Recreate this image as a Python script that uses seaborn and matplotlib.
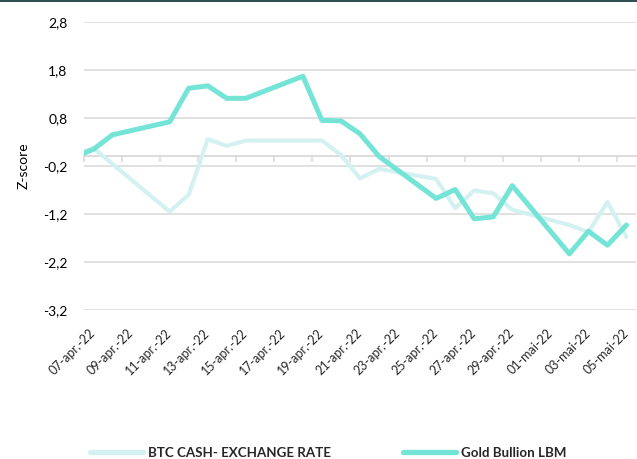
import matplotlib
matplotlib.use("Agg")
import matplotlib.pyplot as plt
import seaborn as sns
import pandas as pd
import numpy as np
from matplotlib.lines import Line2D
from matplotlib.patches import Rectangle

# ---------------- data ----------------
gold_dates = ["2022-04-06", "2022-04-07", "2022-04-08", "2022-04-11", "2022-04-12",
              "2022-04-13", "2022-04-14", "2022-04-15", "2022-04-18", "2022-04-19",
              "2022-04-20", "2022-04-21", "2022-04-22", "2022-04-25", "2022-04-26",
              "2022-04-27", "2022-04-28", "2022-04-29", "2022-05-02", "2022-05-03",
              "2022-05-04", "2022-05-05"]
gold_values = [-0.02, 0.15, 0.45, 0.72, 1.42,
               1.47, 1.21, 1.21, 1.67, 0.75,
               0.74, 0.47, 0.00, -0.875, -0.69,
               -1.30, -1.26, -0.61, -2.03, -1.56,
               -1.85, -1.43]

btc_dates = ["2022-04-06", "2022-04-07", "2022-04-11", "2022-04-12", "2022-04-13",
             "2022-04-14", "2022-04-15", "2022-04-18", "2022-04-19", "2022-04-20",
             "2022-04-21", "2022-04-22", "2022-04-25", "2022-04-26", "2022-04-27",
             "2022-04-28", "2022-04-29", "2022-05-02", "2022-05-03", "2022-05-04",
             "2022-05-05"]
btc_values = [0.05, 0.17, -1.15, -0.80, 0.36,
              0.22, 0.33, 0.33, 0.33, 0.03,
              -0.46, -0.26, -0.47, -1.08, -0.71,
              -0.77, -1.11, -1.43, -1.58, -0.95,
              -1.68]

series_names = ["BTC CASH- EXCHANGE RATE", "Gold Bullion LBM"]
x_tick_labels = ["07-apr.-22", "09-apr.-22", "11-apr.-22", "13-apr.-22", "15-apr.-22",
                 "17-apr.-22", "19-apr.-22", "21-apr.-22", "23-apr.-22", "25-apr.-22",
                 "27-apr.-22", "29-apr.-22", "01-mai-22", "03-mai-22", "05-mai-22"]
y_ticks = [-3.2, -2.2, -1.2, -0.2, 0.8, 1.8, 2.8]
y_label = "Z-score"
start_date = "2022-04-07"
end_date = "2022-05-05"

# ---------------- styling ----------------
GOLD_C = "#74E4D6"
BTC_C = "#D4F1F2"
GRID_C = "#D9D9D9"
TOP_C = "#2F5054"

sns.set_theme(style="white")
plt.rcParams["font.family"] = ["Lato", "DejaVu Sans"]

t0 = pd.Timestamp(start_date)
gold_df = pd.DataFrame({"day": (pd.to_datetime(gold_dates) - t0).days, "z": gold_values})
btc_df = pd.DataFrame({"day": (pd.to_datetime(btc_dates) - t0).days, "z": btc_values})
n_days = (pd.Timestamp(end_date) - t0).days

W, H = 637, 459
fig = plt.figure(figsize=(W / 100, H / 100), dpi=100)
ax = fig.add_axes([84 / W, 1 - 310 / H, 552 / W, 288 / H])

sns.lineplot(data=btc_df, x="day", y="z", ax=ax, color=BTC_C, lw=3.0,
             solid_joinstyle="round", solid_capstyle="round", zorder=3)
sns.lineplot(data=gold_df, x="day", y="z", ax=ax, color=GOLD_C, lw=3.6,
             solid_joinstyle="round", solid_capstyle="round", zorder=4)

ax.set_xlim(-0.5, n_days + 0.5)
ax.set_ylim(y_ticks[0], y_ticks[-1])
ax.set_yticks(y_ticks)
ax.set_yticklabels([f"{v:.1f}".replace(".", ",") for v in y_ticks])
ax.tick_params(axis="y", length=0, pad=12, labelsize=10, labelcolor="#000000")
ax.yaxis.grid(True, color=GRID_C, lw=1.1)
ax.xaxis.grid(False)
ax.set_axisbelow(True)
for s in ["left", "right", "top"]:
    ax.spines[s].set_visible(False)

# horizontal axis line crossing at 0 with tick marks between day-bins
ax.spines["bottom"].set_position(("data", 0))
ax.spines["bottom"].set_color(GRID_C)
ax.spines["bottom"].set_linewidth(1.3)
label_pos = np.arange(0, n_days + 1, 2)
ax.set_xticks(label_pos - 0.5)
ax.tick_params(axis="x", direction="out", length=4, width=1.1, color=GRID_C,
               labelbottom=False, bottom=True)
ax.set_xlabel("")

# date labels at the bottom of the plot area
sec = ax.secondary_xaxis(0.0)
sec.set_xticks(label_pos)
sec.set_xticklabels(x_tick_labels, rotation=45, ha="right", va="center",
                    rotation_mode="anchor", fontsize=9)
sec.tick_params(axis="x", length=0, pad=15)
sec.spines["bottom"].set_visible(False)

ax.set_ylabel(y_label, fontsize=10, color="#000000")
ax.yaxis.set_label_coords(-0.099, 0.5)

# top dark band
fig.add_artist(Rectangle((0, 1 - 2 / H), 1, 2 / H, transform=fig.transFigure,
                         color=TOP_C, lw=0))

# legend: two entries placed along the bottom
for name, col, xpos in [(series_names[0], BTC_C, 90), (series_names[1], GOLD_C, 403)]:
    h = Line2D([], [], color=col, lw=3.8, solid_capstyle="round")
    leg = fig.legend([h], [name], loc="center left",
                     bbox_to_anchor=(xpos / W, 1 - 453 / H), frameon=False,
                     borderpad=0, borderaxespad=0, handlelength=4.0,
                     handletextpad=0.35, prop={"weight": "bold", "size": 9.6})

fig.savefig("out.png", dpi=100)
